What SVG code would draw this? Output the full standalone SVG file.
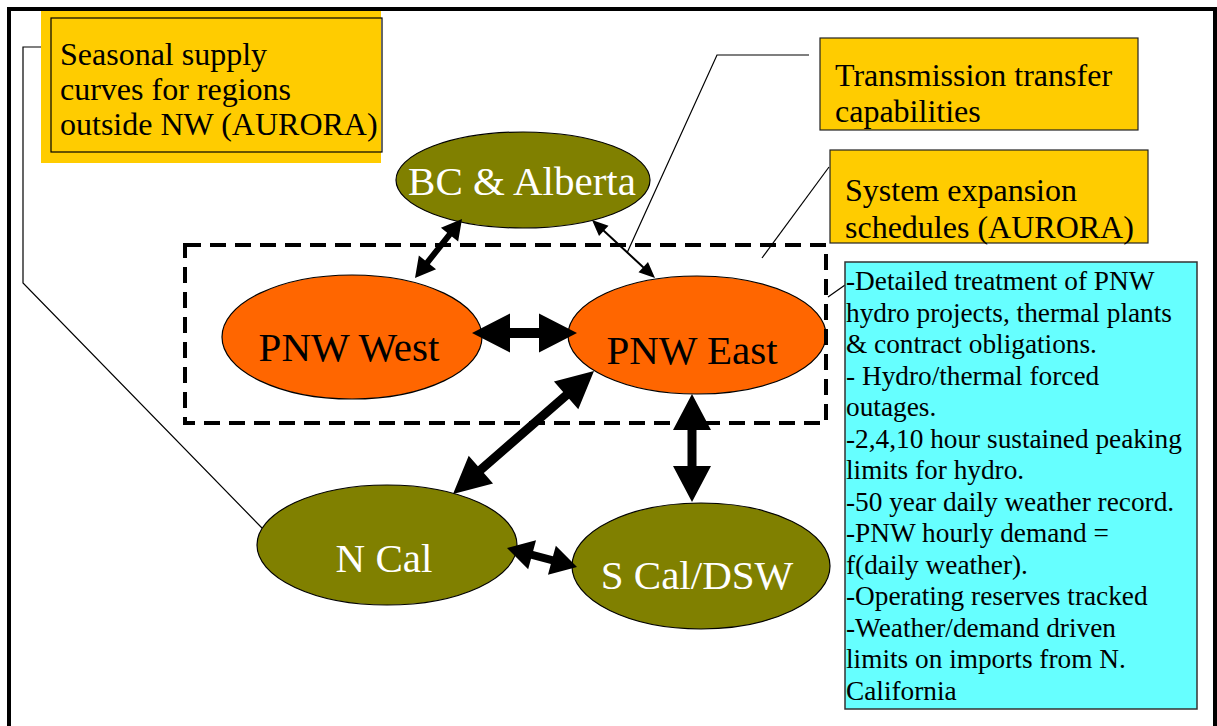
<svg xmlns="http://www.w3.org/2000/svg" width="1217" height="726" viewBox="0 0 1217 726">
<style>
.frame{fill:none;stroke:#000;stroke-width:4}
.ybox{fill:#FFCC00;stroke:#222;stroke-width:1.2}
.cbox{fill:#66FFFF;stroke:#333;stroke-width:1.5}
.olive{fill:#808000;stroke:#000;stroke-width:1.2}
.orange{fill:#FF6600;stroke:#000;stroke-width:1.2}
.t32{font-family:"Liberation Serif","Times New Roman",serif;font-size:32px;fill:#000}
.t27{font-family:"Liberation Serif","Times New Roman",serif;font-size:27.3px;fill:#000}
.lbl{font-family:"Liberation Serif","Times New Roman",serif;font-size:41px;text-anchor:middle}
.w{fill:#fff}
.b{fill:#000}
.thin{fill:none;stroke:#000;stroke-width:1.2}
.dash{fill:none;stroke:#000;stroke-width:4;stroke-dasharray:16 9}
.arrow{fill:#000}
</style>
<rect width="1217" height="726" fill="#fff"/>
<rect class="frame" x="9" y="9" width="1206" height="760"/>

<g id="connectors">
<polyline class="thin" points="51,47 23,47 23,283 262,528"/>
<polyline class="thin" points="809,55 717,55 627,253"/>
<line class="thin" x1="829" y1="167" x2="762" y2="258"/>
<line class="thin" x1="845" y1="285" x2="828" y2="297"/>
</g>

<g id="seasonal-box">
<rect x="41" y="11" width="340" height="152" fill="#FFCC00"/>
<rect x="51" y="18" width="331" height="134" fill="none" stroke="#000" stroke-width="1.2"/>
<text class="t32" x="60" y="65">Seasonal supply</text>
<text class="t32" x="60" y="100">curves for regions</text>
<text class="t32" x="60" y="135">outside NW (AURORA)</text>
</g>

<g id="transmission-box">
<rect class="ybox" x="820" y="38" width="318" height="92"/>
<text class="t32" x="835" y="86">Transmission transfer</text>
<text class="t32" x="835" y="122">capabilities</text>
</g>

<g id="expansion-box">
<rect class="ybox" x="830" y="150" width="318" height="93"/>
<text class="t32" x="845" y="201">System expansion</text>
<text class="t32" x="845" y="238">schedules (AURORA)</text>
</g>

<g id="bc-alberta">
<ellipse class="olive" cx="523" cy="180" rx="127" ry="48"/>
<text class="lbl w" x="522" y="195">BC &amp; Alberta</text>
</g>

<g id="pnw-west">
<ellipse class="orange" cx="352" cy="337" rx="130" ry="62"/>
<text class="lbl b" x="349" y="361">PNW West</text>
</g>

<g id="pnw-east">
<ellipse class="orange" cx="697" cy="335" rx="129" ry="59"/>
<text class="lbl b" x="692" y="364">PNW East</text>
</g>

<g id="n-cal">
<ellipse class="olive" cx="387" cy="545" rx="130" ry="60"/>
<text class="lbl w" x="384" y="572">N Cal</text>
</g>

<g id="s-cal-dsw">
<ellipse class="olive" cx="701" cy="566" rx="129" ry="63"/>
<text class="lbl w" x="697" y="589">S Cal/DSW</text>
</g>

<g id="pnw-region">
<rect class="dash" x="185" y="245" width="641" height="178"/>
</g>

<g id="arrows">
<polygon class="arrow" points="472,333 510,313.5 510,328 539,328 539,313.5 577,333 539,352.5 539,338 510,338 510,352.5"/>
<polygon class="arrow" points="692,394 711,430 696.5,430 696.5,466 711,466 692,502 673,466 687.5,466 687.5,430 673,430"/>
<polygon class="arrow" points="594,371 578.28,409.26 569.08,398.71 483.84,473.07 493.04,483.62 453,494 468.72,455.74 477.92,466.29 563.16,391.93 553.96,381.38"/>
<polygon class="arrow" points="507,548 528.16,569.29 531.04,558.67 550.86,564.05 547.98,574.67 577,567 555.84,545.71 552.96,556.33 533.14,550.95 536.02,540.33"/>
<polygon class="arrow" points="462,219 458.14,241.49 451.89,236.51 429.81,264.23 436.06,269.21 415,278 418.86,255.51 425.11,260.49 447.19,232.77 440.94,227.79"/>
<polygon class="arrow" points="592,220 599.03,235.99 603.09,231.58 642.55,267.9 638.49,272.31 655,278 647.97,262.01 643.91,266.42 604.45,230.1 608.51,225.69"/>
</g>

<g id="details-box">
<rect class="cbox" x="845" y="262" width="352" height="447"/>
<text class="t27" x="846" y="290">-Detailed treatment of PNW</text>
<text class="t27" x="846" y="321.5">hydro projects, thermal plants</text>
<text class="t27" x="846" y="353">&amp; contract obligations.</text>
<text class="t27" x="846" y="384.5">- Hydro/thermal forced</text>
<text class="t27" x="846" y="416">outages.</text>
<text class="t27" x="846" y="447.5">-2,4,10 hour sustained peaking</text>
<text class="t27" x="846" y="479">limits for hydro.</text>
<text class="t27" x="846" y="510.5">-50 year daily weather record.</text>
<text class="t27" x="846" y="542">-PNW hourly demand =</text>
<text class="t27" x="846" y="573.5">f(daily weather).</text>
<text class="t27" x="846" y="605">-Operating reserves tracked</text>
<text class="t27" x="846" y="636.5">-Weather/demand driven</text>
<text class="t27" x="846" y="668">limits on imports from N.</text>
<text class="t27" x="846" y="699.5">California</text>
</g>
</svg>
